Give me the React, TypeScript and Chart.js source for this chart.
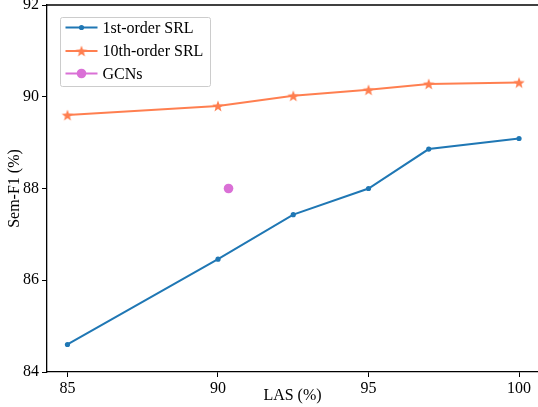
import { useEffect, useRef } from 'react';
import { Chart, registerables } from 'chart.js';

Chart.register(...registerables);

const lasValues = [85, 90, 92.5, 95, 97, 100];
const firstOrderF1 = [84.6, 86.46, 87.43, 88.0, 88.86, 89.09];
const tenthOrderF1 = [89.6, 89.8, 90.02, 90.15, 90.28, 90.31];
const gcnLas = [90.35];
const gcnF1 = [88.0];
const xTickValues = [85, 90, 95, 100];
const yTickValues = [84, 86, 88, 90, 92];
const seriesLabels = ['1st-order SRL', '10th-order SRL', 'GCNs'];
const seriesColors = ['#1f77b4', '#ff7f50', '#da70d6'];

const FONT = "'Liberation Serif', 'Times New Roman', serif";

function makeStar(r: number, color: string): HTMLCanvasElement {
  const c = document.createElement('canvas');
  const s = Math.ceil(2 * r + 2);
  c.width = s;
  c.height = s;
  const ctx = c.getContext('2d')!;
  const cx = s / 2;
  const cy = s / 2 + r * 0.1;
  const inner = r * 0.42;
  ctx.beginPath();
  for (let i = 0; i < 10; i++) {
    const rad = i % 2 === 0 ? r : inner;
    const a = -Math.PI / 2 + (i * Math.PI) / 5;
    const px = cx + rad * Math.cos(a);
    const py = cy + rad * Math.sin(a);
    if (i === 0) ctx.moveTo(px, py);
    else ctx.lineTo(px, py);
  }
  ctx.closePath();
  ctx.fillStyle = color;
  ctx.fill();
  return c;
}

export default function App() {
  const ref = useRef<HTMLCanvasElement | null>(null);

  useEffect(() => {
    if (!ref.current) return;
    const star = makeStar(6, seriesColors[1]);

    const framePlugin = {
      id: 'frameAndLegend',
      afterDraw(chart: any) {
        const { ctx, chartArea } = chart;
        ctx.save();
        // top spine
        ctx.strokeStyle = '#000';
        ctx.lineWidth = 1.3;
        ctx.beginPath();
        ctx.moveTo(chartArea.left - 0.6, chartArea.top);
        ctx.lineTo(chartArea.right, chartArea.top);
        ctx.stroke();

        // legend
        const bx = chartArea.left + 13.5;
        const by = chartArea.top + 12.5;
        const bw = 150;
        const bh = 69;
        ctx.beginPath();
        const rr = 2;
        ctx.moveTo(bx + rr, by);
        ctx.lineTo(bx + bw - rr, by);
        ctx.quadraticCurveTo(bx + bw, by, bx + bw, by + rr);
        ctx.lineTo(bx + bw, by + bh - rr);
        ctx.quadraticCurveTo(bx + bw, by + bh, bx + bw - rr, by + bh);
        ctx.lineTo(bx + rr, by + bh);
        ctx.quadraticCurveTo(bx, by + bh, bx, by + bh - rr);
        ctx.lineTo(bx, by + rr);
        ctx.quadraticCurveTo(bx, by, bx + rr, by);
        ctx.closePath();
        ctx.fillStyle = 'rgba(255,255,255,0.8)';
        ctx.fill();
        ctx.strokeStyle = '#cccccc';
        ctx.lineWidth = 1;
        ctx.stroke();

        const rows = [by + 10, by + 33.5, by + 56];
        const x1 = bx + 5;
        const x2 = bx + 37;
        const xm = (x1 + x2) / 2;
        seriesLabels.forEach((label, i) => {
          const y = rows[i];
          ctx.strokeStyle = seriesColors[i];
          ctx.lineWidth = 2;
          ctx.beginPath();
          ctx.moveTo(x1, y);
          ctx.lineTo(x2, y);
          ctx.stroke();
          if (i === 1) {
            ctx.drawImage(star, xm - star.width / 2, y - star.height / 2);
          } else {
            ctx.fillStyle = seriesColors[i];
            ctx.beginPath();
            ctx.arc(xm, y, i === 0 ? 2.6 : 4.8, 0, Math.PI * 2);
            ctx.fill();
          }
          ctx.fillStyle = '#000';
          ctx.font = `16px ${FONT}`;
          ctx.textBaseline = 'middle';
          ctx.textAlign = 'left';
          ctx.fillText(label, x2 + 5, y + 1);
        });
        ctx.restore();
      },
    };

    const tickFont = { family: FONT, size: 16 };

    const chart = new Chart(ref.current, {
      type: 'line',
      data: {
        datasets: [
          {
            label: seriesLabels[0],
            data: lasValues.map((x, i) => ({ x, y: firstOrderF1[i] })),
            borderColor: seriesColors[0],
            backgroundColor: seriesColors[0],
            borderWidth: 2,
            pointRadius: 2.6,
            pointBorderWidth: 0,
            pointBackgroundColor: seriesColors[0],
            tension: 0,
            order: 3,
          },
          {
            label: seriesLabels[1],
            data: lasValues.map((x, i) => ({ x, y: tenthOrderF1[i] })),
            borderColor: seriesColors[1],
            backgroundColor: seriesColors[1],
            borderWidth: 2,
            pointStyle: star as any,
            pointRadius: 6,
            tension: 0,
            order: 2,
          },
          {
            label: seriesLabels[2],
            data: gcnLas.map((x, i) => ({ x, y: gcnF1[i] })),
            showLine: false,
            borderColor: seriesColors[2],
            backgroundColor: seriesColors[2],
            pointBackgroundColor: seriesColors[2],
            pointBorderWidth: 0,
            pointRadius: 4.8,
            order: 1,
          },
        ],
      },
      options: {
        animation: false,
        responsive: false,
        maintainAspectRatio: false,
        devicePixelRatio: 1,
        layout: { autoPadding: false, padding: { top: 5, right: 0, left: 0, bottom: 0 } },
        plugins: {
          legend: { display: false },
          tooltip: { enabled: false },
        },
        scales: {
          x: {
            type: 'linear',
            min: 84.32,
            max: 100.63,
            afterBuildTicks: (s: any) => {
              s.ticks = xTickValues.map((v) => ({ value: v }));
            },
            afterFit: (s: any) => {
              s.height = 35;
              s.paddingLeft = 0;
              s.paddingRight = 0;
            },
            ticks: {
              font: tickFont,
              color: '#000',
              padding: 2,
              maxRotation: 0,
              autoSkip: false,
            },
            grid: {
              drawOnChartArea: false,
              tickLength: 5,
              color: '#000',
              lineWidth: 1,
            },
            border: { color: '#000', width: 1.3 },
            title: {
              display: true,
              text: 'LAS (%)',
              font: tickFont,
              color: '#000',
              padding: { top: 0, bottom: 2 },
            },
          },
          y: {
            type: 'linear',
            min: 84,
            max: 92,
            afterBuildTicks: (s: any) => {
              s.ticks = yTickValues.map((v) => ({ value: v }));
            },
            afterFit: (s: any) => {
              s.width = 47;
              s.paddingTop = 0;
              s.paddingBottom = 0;
            },
            ticks: {
              font: tickFont,
              color: '#000',
              padding: 3,
              autoSkip: false,
            },
            grid: {
              drawOnChartArea: false,
              tickLength: 5,
              color: '#000',
              lineWidth: 1,
            },
            border: { color: '#000', width: 1.3 },
            title: {
              display: true,
              text: 'Sem-F1 (%)',
              font: tickFont,
              color: '#000',
              padding: { top: 5, bottom: 0 },
            },
          },
        },
      },
      plugins: [framePlugin],
    });

    return () => chart.destroy();
  }, []);

  return (
    <div style={{ position: 'absolute', left: 0, top: 0, width: 538, height: 407 }}>
      <canvas ref={ref} width={538} height={407} style={{ display: 'block' }} />
    </div>
  );
}
